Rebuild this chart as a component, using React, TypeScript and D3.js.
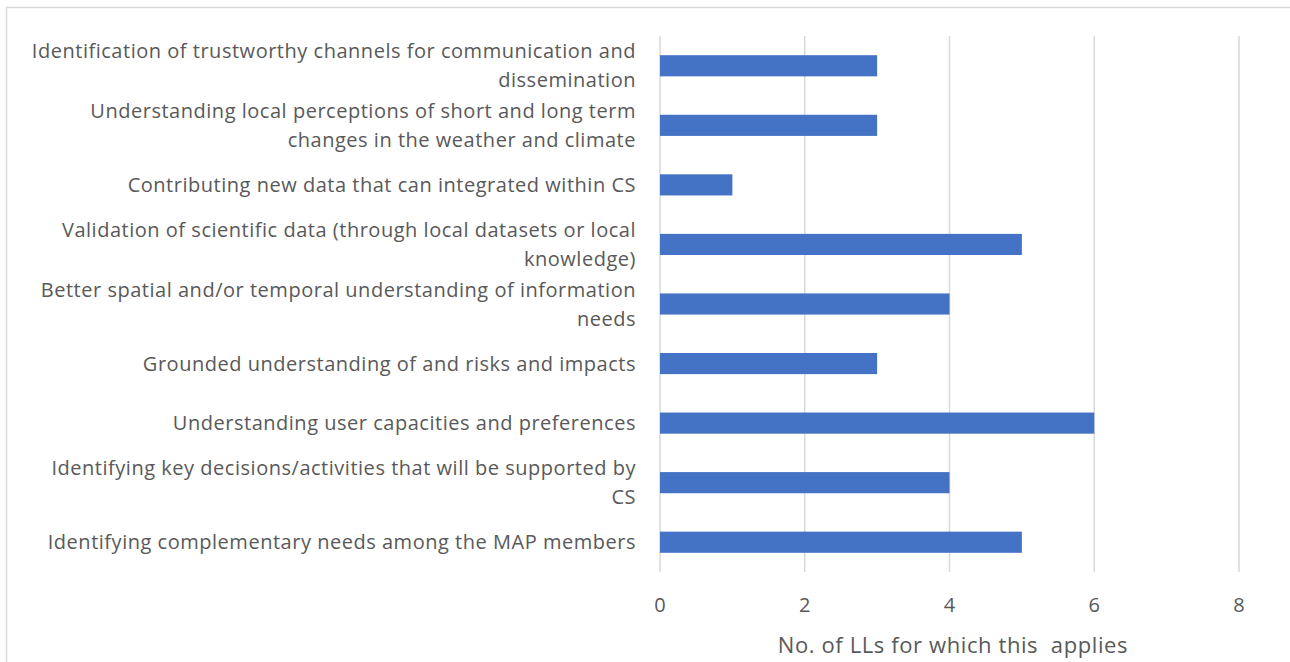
import React from "react";
import * as d3 from "d3";

const categories: string[][] = [
  ["Identification of trustworthy channels for communication and", "dissemination"],
  ["Understanding local perceptions of short and long term", "changes in the weather and climate"],
  ["Contributing new data that can integrated within CS"],
  ["Validation of scientific data (through local datasets or local", "knowledge)"],
  ["Better spatial and/or temporal understanding of information", "needs"],
  ["Grounded understanding of and risks and impacts"],
  ["Understanding user capacities and preferences"],
  ["Identifying key decisions/activities that will be supported by", "CS"],
  ["Identifying complementary needs among the MAP members"],
];
const values: number[] = [3, 3, 1, 5, 4, 3, 6, 4, 5];
const xTicks: number[] = [0, 2, 4, 6, 8];
const axisTitle = "No. of LLs for which this  applies";

export default function App() {
  const W = 1290, H = 662;
  const left = 660, right = 1239, top = 36, bottom = 572;
  const x = d3.scaleLinear().domain([0, 8]).range([left, right]);
  const y = d3.scaleBand<number>().domain(d3.range(categories.length)).range([top, bottom]).paddingInner(0.645).paddingOuter(0.3225);
  const font = "'Open Sans', 'Noto Sans', sans-serif";
  return (
    <svg width={W} height={H} style={{ position: "absolute", left: 0, top: 0, display: "block" }}>
      <rect x={0} y={0} width={W} height={H} fill="#fff" />
      <line x1={6.5} y1={7} x2={6.5} y2={H} stroke="#d9d9d9" strokeWidth={1.5} />
      <line x1={6} y1={7.5} x2={W} y2={7.5} stroke="#d9d9d9" strokeWidth={1.5} />
      {xTicks.map((t) => (
        <line key={t} x1={x(t)} x2={x(t)} y1={top} y2={bottom} stroke="#d9d9d9" strokeWidth={1.5} />
      ))}
      {values.map((v, i) => (
        <rect key={i} x={x(0)} y={y(i)!} width={x(v) - x(0)} height={y.bandwidth()} fill="#4472C4" />
      ))}
      {categories.map((lines, i) => {
        const cy = y(i)! + y.bandwidth() / 2;
        const lh = 29;
        const start = cy - ((lines.length - 1) * lh) / 2;
        return (
          <text key={i} x={636} textAnchor="end" fontFamily={font} fontSize={20} letterSpacing={0.52} fill="#595959">
            {lines.map((l, j) => (
              <tspan key={j} x={636} y={start + j * lh} dy="0.35em">{l}</tspan>
            ))}
          </text>
        );
      })}
      {xTicks.map((t) => (
        <text key={t} x={x(t)} y={605} dy="0.35em" textAnchor="middle" fontFamily={font} fontSize={20} fill="#595959">{t}</text>
      ))}
      <text x={953} y={645} dy="0.35em" textAnchor="middle" fontFamily={font} fontSize={22} letterSpacing={0.6} fill="#595959" style={{ whiteSpace: "pre" }}>{axisTitle}</text>
    </svg>
  );
}
